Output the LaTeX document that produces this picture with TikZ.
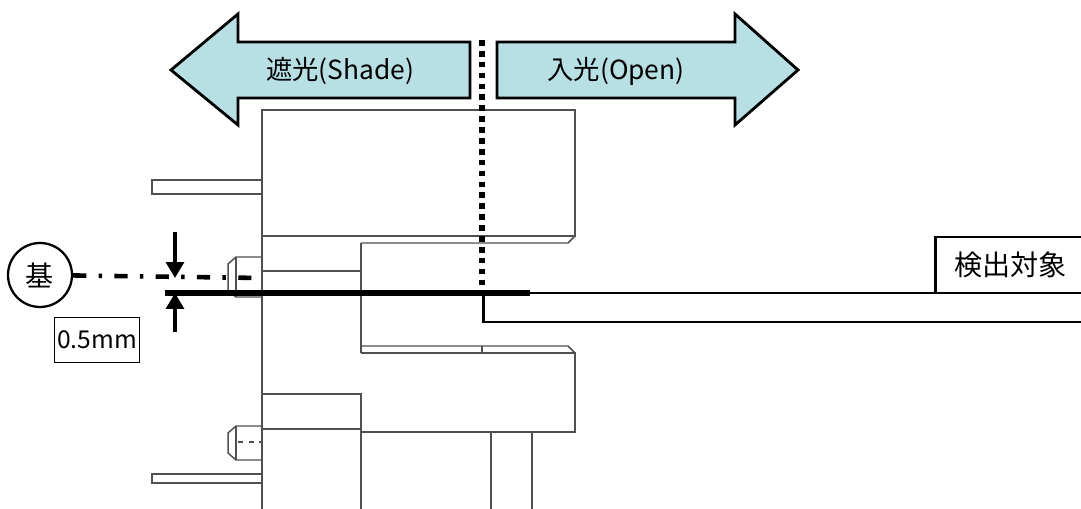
\documentclass[tikz,border=0pt]{standalone}
\usepackage{fontspec}
\setmainfont{Noto Sans CJK JP}
\usepackage{tikz}
\usetikzlibrary{arrows.meta}
\definecolor{shadecyan}{RGB}{183,223,228}
\definecolor{bodygray}{RGB}{80,80,80}

\begin{document}
\begin{tikzpicture}[x=0.02cm, y=-0.02cm,
	part/.style={draw=bodygray, line width=0.85pt},
	bigarrow/.style={draw=black, fill=shadecyan, line width=1.6pt, line join=miter},
	dimarrow/.style={line width=2.2pt, -{Triangle[length=9pt, width=10pt]}},
	label/.style={font=\fontsize{15pt}{18pt}\selectfont, inner sep=0pt}]
	\useasboundingbox (0, 0) rectangle (1081, 509);
	\draw [bigarrow] (171, 70) -- (238, 14) -- (238, 42) -- (470, 42) -- (470, 98) -- (238, 98) -- (238, 125) -- cycle;
	\draw [bigarrow] (798, 70) -- (735, 14) -- (735, 42) -- (497, 42) -- (497, 98) -- (735, 98) -- (735, 125) -- cycle;
	\node [label] (shade) at (340, 71) {遮光(Shade)};
	\node [label] (open) at (616, 71) {入光(Open)};
	\draw [part] (262, 110) rectangle (575, 236);
	\draw [part] (361, 243) -- (568, 243) -- (575, 236);
	\draw [part] (361, 243) -- (361, 353);
	\draw [part] (361, 346) -- (568, 346) -- (575, 353);
	\draw [part] (361, 353) -- (575, 353) -- (575, 432) -- (361, 432);
	\draw [part] (482, 346) -- (482, 353);
	\draw [part] (262, 236) -- (262, 509);
	\draw [part] (262, 271) -- (361, 271);
	\draw [part] (262, 394) -- (361, 394) -- (361, 509);
	\draw [part] (262, 429) -- (361, 429);
	\draw [part] (491, 432) -- (491, 509);
	\draw [part] (532, 432) -- (532, 509);
	\draw [part, line width=1.1pt] (152, 180) rectangle (262, 194);
	\draw [part, line width=1.1pt] (152, 474) rectangle (262, 483);
	\draw [part] (262, 257) -- (236, 257) -- (228, 264) -- (228, 291) -- (236, 297) -- (262, 297);
	\draw [part] (236, 257) -- (236, 297);
	\draw [part] (262, 426) -- (236, 426) -- (228, 433) -- (228, 453) -- (236, 460) -- (262, 460);
	\draw [part] (236, 426) -- (236, 460);
	\draw [part, dash pattern=on 3pt off 3pt] (238, 442) -- (262, 442);
	\node [draw, circle, line width=1.3pt, minimum size=1.28cm, inner sep=0pt, font=\fontsize{16pt}{18pt}\selectfont] (base) at (40, 275) {基};
	\draw [line width=2.6pt, dash pattern=on 7.5pt off 7pt on 2pt off 7pt] (base) -- (262, 278);
	\node [draw, line width=1.1pt, minimum width=1.7cm, minimum height=0.9cm, inner sep=0pt, font=\fontsize{14pt}{16pt}\selectfont] (gap) at (97, 340) {0.5mm};
	\coordinate (dimtop) at (175, 232);
	\coordinate (dimbot) at (175, 332);
	\draw [dimarrow] (dimtop) -- (175, 278);
	\draw [dimarrow] (dimbot) -- (175, 293);
	\draw [line width=1.7pt] (1090, 293) -- (483, 293) -- (483, 322) -- (1090, 322);
	\draw [line width=3.2pt] (165, 293) -- (530, 293);
	\draw [line width=3.4pt, dash pattern=on 3.2pt off 3pt] (482, 40) -- (482, 293);
	\node [draw, line width=1.5pt, anchor=west, minimum width=3cm, minimum height=1.12cm, inner sep=0pt, font=\fontsize{16pt}{18pt}\selectfont] (target) at (934, 265) {検出対象};
\end{tikzpicture}
\end{document}
